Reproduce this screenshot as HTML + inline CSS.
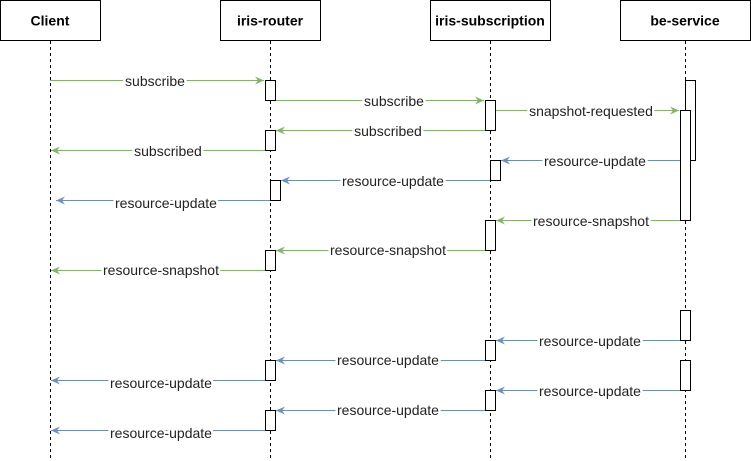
<!DOCTYPE html>
<html><head><meta charset="utf-8"><style>html,body{margin:0;padding:0;background:#fff}svg{display:block}</style></head>
<body>
<svg width="751" height="461" xmlns="http://www.w3.org/2000/svg" font-family="Liberation Sans, Arial, sans-serif">
<defs>
<marker id="g" markerWidth="10" markerHeight="10" refX="9" refY="5" orient="auto" markerUnits="userSpaceOnUse"><path d="M0,1 L9,5 L0,9 L3,5 Z" fill="#82b366"/></marker>
<marker id="b" markerWidth="10" markerHeight="10" refX="9" refY="5" orient="auto" markerUnits="userSpaceOnUse"><path d="M0,1 L9,5 L0,9 L3,5 Z" fill="#6c8ebf"/></marker>
</defs>
<g fill="#fff" stroke="#000">
<rect x="0.5" y="0.5" width="100" height="40"/>
<rect x="220.5" y="0.5" width="100" height="40"/>
<rect x="430.5" y="0.5" width="120" height="40"/>
<rect x="620.5" y="0.5" width="130" height="40"/>
</g>
<g font-weight="bold" font-size="14" text-anchor="middle">
<text x="50" y="25.5">Client</text>
<text x="270" y="25.5">iris-router</text>
<text x="490" y="25.5">iris-subscription</text>
<text x="685" y="25.5">be-service</text>
</g>
<g stroke="#000" stroke-dasharray="3,3">
<line x1="50.5" y1="41" x2="50.5" y2="460"/>
<line x1="270.5" y1="41" x2="270.5" y2="460"/>
<line x1="490.5" y1="41" x2="490.5" y2="460"/>
<line x1="685.5" y1="41" x2="685.5" y2="460"/>
</g>
<g fill="none" stroke-width="1">
<g stroke="#82b366">
<line x1="50" y1="80.5" x2="264" y2="80.5" marker-end="url(#g)"/>
<line x1="275" y1="100.5" x2="484" y2="100.5" marker-end="url(#g)"/>
<line x1="495" y1="110.5" x2="679" y2="110.5" marker-end="url(#g)"/>
<line x1="485" y1="130.5" x2="276" y2="130.5" marker-end="url(#g)"/>
<line x1="265" y1="150.5" x2="51" y2="150.5" marker-end="url(#g)"/>
<line x1="680" y1="220.5" x2="496" y2="220.5" marker-end="url(#g)"/>
<line x1="485" y1="250.5" x2="276" y2="250.5" marker-end="url(#g)"/>
<line x1="265" y1="270.5" x2="51" y2="270.5" marker-end="url(#g)"/>
</g>
<g stroke="#6c8ebf">
<line x1="690" y1="160.5" x2="501" y2="160.5" marker-end="url(#b)"/>
<line x1="490" y1="180.5" x2="281" y2="180.5" marker-end="url(#b)"/>
<line x1="270" y1="200.5" x2="56" y2="200.5" marker-end="url(#b)"/>
<line x1="680" y1="340.5" x2="496" y2="340.5" marker-end="url(#b)"/>
<line x1="485" y1="360.5" x2="276" y2="360.5" marker-end="url(#b)"/>
<line x1="265" y1="380.5" x2="51" y2="380.5" marker-end="url(#b)"/>
<line x1="680" y1="390.5" x2="496" y2="390.5" marker-end="url(#b)"/>
<line x1="485" y1="410.5" x2="276" y2="410.5" marker-end="url(#b)"/>
<line x1="265" y1="430.5" x2="51" y2="430.5" marker-end="url(#b)"/>
</g>
</g>
<g fill="#fff" stroke="#000">
<rect x="265.5" y="80.5" width="10" height="20"/>
<rect x="485.5" y="100.5" width="10" height="30"/>
<rect x="685.5" y="80.5" width="10" height="80"/>
<rect x="680.5" y="110.5" width="10" height="110"/>
<rect x="265.5" y="130.5" width="10" height="20"/>
<rect x="490.5" y="160.5" width="10" height="20"/>
<rect x="270.5" y="180.5" width="10" height="20"/>
<rect x="485.5" y="220.5" width="10" height="30"/>
<rect x="265.5" y="250.5" width="10" height="20"/>
<rect x="680.5" y="310.5" width="10" height="30"/>
<rect x="485.5" y="340.5" width="10" height="20"/>
<rect x="265.5" y="360.5" width="10" height="20"/>
<rect x="680.5" y="360.5" width="10" height="30"/>
<rect x="485.5" y="390.5" width="10" height="20"/>
<rect x="265.5" y="410.5" width="10" height="20"/>
</g>
<g font-size="14" text-anchor="middle" fill="#222" stroke="#fff" stroke-width="5" paint-order="stroke" stroke-linejoin="round">
<text x="155" y="86">subscribe</text>
<text x="394" y="106">subscribe</text>
<text x="591" y="116">snapshot-requested</text>
<text x="388" y="136">subscribed</text>
<text x="168" y="156">subscribed</text>
<text x="595" y="166">resource-update</text>
<text x="393" y="186">resource-update</text>
<text x="166" y="208">resource-update</text>
<text x="591" y="226">resource-snapshot</text>
<text x="388" y="255">resource-snapshot</text>
<text x="161" y="275">resource-snapshot</text>
<text x="590" y="346">resource-update</text>
<text x="388" y="365">resource-update</text>
<text x="161" y="388">resource-update</text>
<text x="590" y="396">resource-update</text>
<text x="388" y="415">resource-update</text>
<text x="161" y="438">resource-update</text>
</g>
</svg>
</body></html>
